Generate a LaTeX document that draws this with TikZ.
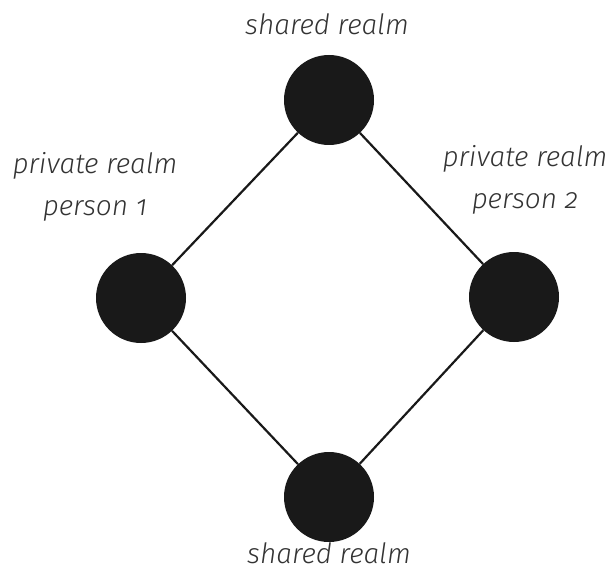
\documentclass[tikz,border=0pt]{standalone}
\usepackage{fontspec}
\setmainfont{Fira Sans Light}[ItalicFont={Fira Sans Light Italic},Numbers=OldStyle]
\begin{document}
\begin{tikzpicture}[x=1pt,y=-1pt,
  dot/.style={circle,fill=black!90,minimum size=90pt,inner sep=0pt},
  lab/.style={text=black!80,font=\itshape\fontsize{28}{42}\selectfont,align=center},
  link/.style={line width=2.2pt,black!90}]
\useasboundingbox (0,0) rectangle (612,577);
\node[dot] (t) at (329,100) {};
\node[dot] (l) at (141,298) {};
\node[dot] (r) at (514,297) {};
\node[dot] (b) at (329,497) {};
\draw[link] (t) -- (l);
\draw[link] (t) -- (r);
\draw[link] (l) -- (b);
\draw[link] (r) -- (b);
\node[lab] (lt) at (327,24) {shared realm};
\node[lab] (lb) at (329,553) {shared realm};
\node[lab] (ll) at (95,187) {private realm\\person 1};
\node[lab] (lr) at (525,180) {private realm\\person 2};
\end{tikzpicture}
\end{document}
